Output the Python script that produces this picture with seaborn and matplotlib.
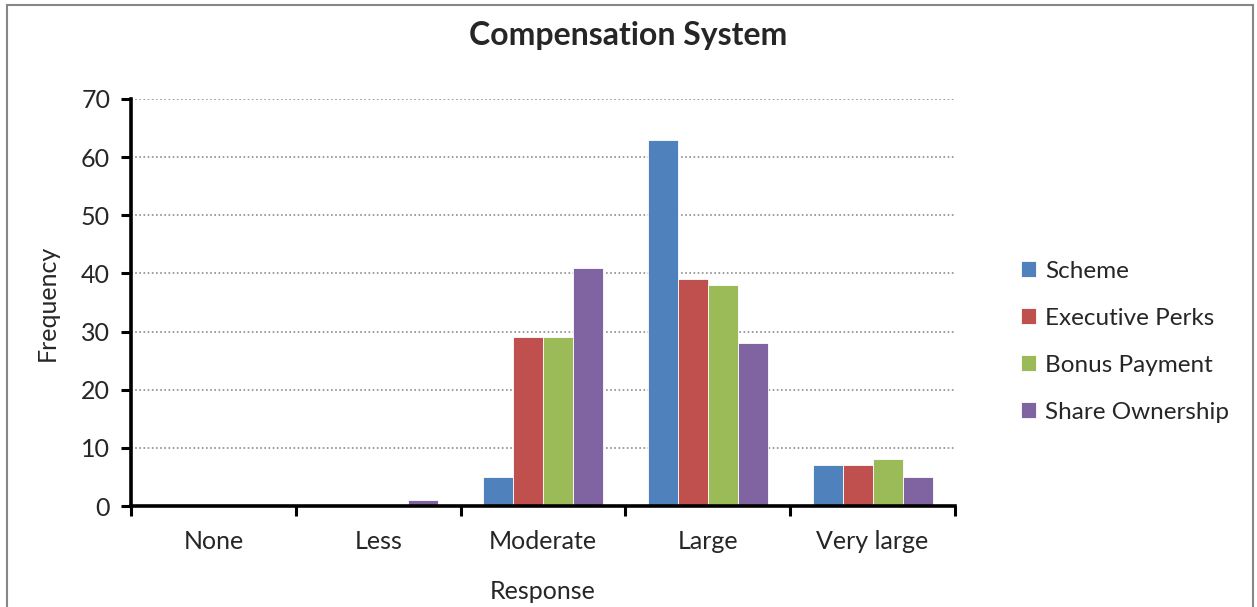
import matplotlib
matplotlib.use("Agg")
import matplotlib.pyplot as plt
from matplotlib.patches import Rectangle
from matplotlib.ticker import FixedLocator, MultipleLocator
import seaborn as sns
import pandas as pd

responses = ["None", "Less", "Moderate", "Large", "Very large"]
series = ["Scheme", "Executive Perks", "Bonus Payment", "Share Ownership"]
scheme = [0, 0, 5, 63, 7]
executive_perks = [0, 0, 29, 39, 7]
bonus_payment = [0, 0, 29, 38, 8]
share_ownership = [0, 1, 41, 28, 5]
colors = ["#4F81BD", "#C0504D", "#9BBB59", "#8064A2"]

rows = []
for name, vals in zip(series, [scheme, executive_perks, bonus_payment, share_ownership]):
    for resp, v in zip(responses, vals):
        rows.append({"Response": resp, "Series": name, "Frequency": v})
df = pd.DataFrame(rows)

sns.set_style("white")
plt.rcParams["font.family"] = ["Lato", "DejaVu Sans"]

fig = plt.figure(figsize=(12.57, 6.07), dpi=100)
ax = fig.add_axes([131 / 1257, 1 - 506 / 607, (955 - 131) / 1257, (506 - 99) / 607])

sns.barplot(data=df, x="Response", y="Frequency", hue="Series", order=responses,
            hue_order=series, palette=colors, width=4 / 5.5, gap=0,
            edgecolor="white", linewidth=0.6, ax=ax, saturation=1)

ax.set_xlim(-0.5, 4.5)
ax.set_ylim(0, 70)
ax.yaxis.set_major_locator(MultipleLocator(10))
ax.grid(axis="y", color="#8c8c8c", linestyle=(0, (1, 1.5)), linewidth=1.2)
ax.set_axisbelow(True)

for side in ["top", "right"]:
    ax.spines[side].set_visible(False)
for side in ["left", "bottom"]:
    ax.spines[side].set_linewidth(2.6)
    ax.spines[side].set_color("black")

ax.tick_params(axis="y", which="major", direction="out", length=7, width=2.2,
               labelsize=18, pad=8, left=True, color="black")
ax.tick_params(axis="x", which="major", length=0, labelsize=18, pad=17)
ax.xaxis.set_minor_locator(FixedLocator([-0.5, 0.5, 1.5, 2.5, 3.5, 4.5]))
ax.tick_params(axis="x", which="minor", direction="out", length=7, width=2.2,
               bottom=True, color="black")

ax.set_xlabel("Response", fontsize=18, labelpad=20)
ax.set_ylabel("Frequency", fontsize=18, labelpad=16)
fig.text(0.5, 1 - 36 / 607, "Compensation System", fontsize=23, fontweight="bold",
         ha="center", va="center")

leg = ax.legend(loc="center left", bbox_to_anchor=(1.053, 0.404), frameon=False,
                fontsize=17.5, handlelength=0.65, handleheight=0.65, handletextpad=0.35,
                labelspacing=1.07)

fig.patches.append(Rectangle((7 / 1257, -0.05), (1253 - 7) / 1257, 1.05 - 5 / 607,
                             transform=fig.transFigure, fill=False,
                             edgecolor="#868686", linewidth=1.5))

fig.savefig("out.png", dpi=100)
